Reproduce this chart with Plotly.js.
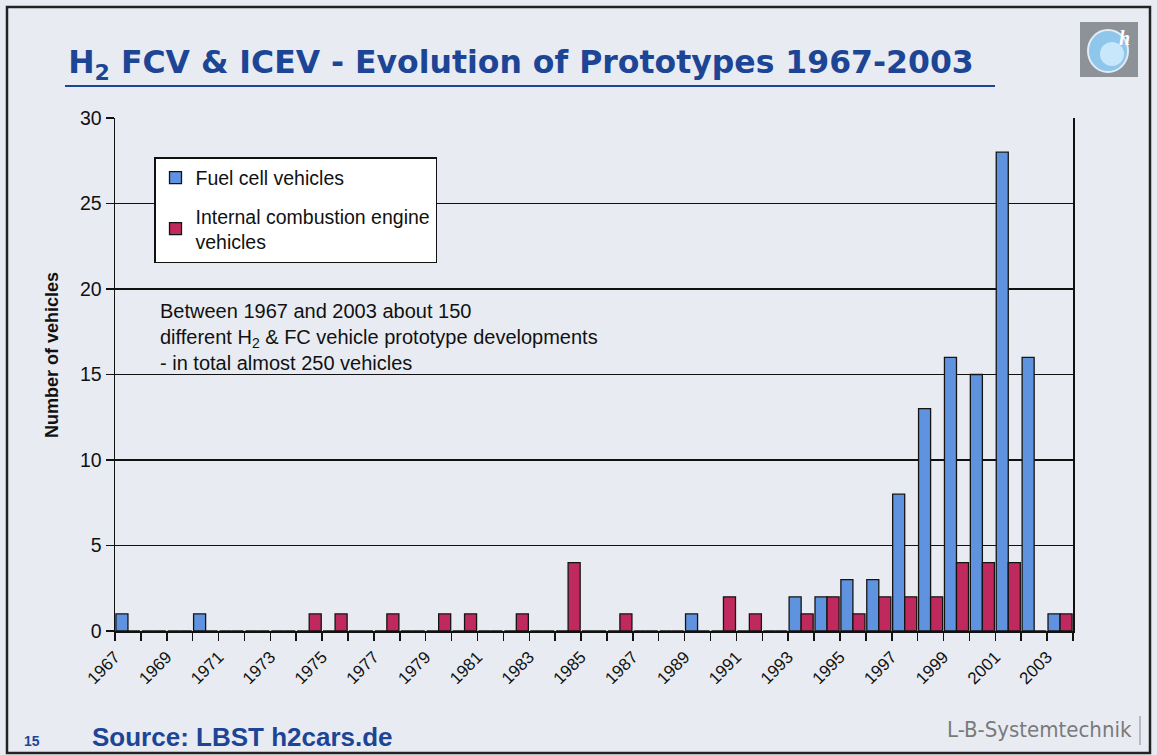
<!DOCTYPE html>
<html>
<head>
<meta charset="utf-8">
<script src="https://cdn.plot.ly/plotly-3.0.1.min.js"></script>
<style>
  html, body { margin: 0; padding: 0; background: #e7ebf1; }
  #chart { width: 1157px; height: 755px; }
</style>
</head>
<body>
<div id="chart"></div>
<script>
// ---- Data ----
const years = [1967, 1968, 1969, 1970, 1971, 1972, 1973, 1974, 1975, 1976,
               1977, 1978, 1979, 1980, 1981, 1982, 1983, 1984, 1985, 1986,
               1987, 1988, 1989, 1990, 1991, 1992, 1993, 1994, 1995, 1996,
               1997, 1998, 1999, 2000, 2001, 2002, 2003];
const fuelCellVehicles = [1, 0, 0, 1, 0, 0, 0, 0, 0, 0,
                          0, 0, 0, 0, 0, 0, 0, 0, 0, 0,
                          0, 0, 1, 0, 0, 0, 2, 2, 3, 3,
                          8, 13, 16, 15, 28, 16, 1];
const iceVehicles = [0, 0, 0, 0, 0, 0, 0, 1, 1, 0,
                     1, 0, 1, 1, 0, 1, 0, 4, 0, 1,
                     0, 0, 0, 2, 1, 0, 1, 2, 1, 2,
                     2, 2, 4, 4, 4, 0, 1];
const tickLabelYears = [1967, 1969, 1971, 1973, 1975, 1977, 1979, 1981, 1983, 1985,
                        1987, 1989, 1991, 1993, 1995, 1997, 1999, 2001, 2003];
const yTicks = [0, 5, 10, 15, 20, 25, 30];
const seriesNames = ['Fuel cell vehicles', 'Internal combustion engine<br>vehicles'];
const titleText = 'H<sub>2</sub> FCV & ICEV - Evolution of Prototypes 1967-2003';
const yTitleText = 'Number of vehicles';
const noteText = 'Between 1967 and 2003 about 150<br>different H<sub>2</sub> & FC vehicle prototype developments<br>- in total almost 250 vehicles';

// ---- Layout geometry ----
const W = 1157, H = 755;
const M = { l: 115, r: 84, t: 118, b: 124 };
const PW = W - M.l - M.r, PH = H - M.t - M.b;
const px = x => (x - M.l) / PW;
const py = y => (H - M.b - y) / PH;

const FONT = 'Liberation Sans, Arial, sans-serif';
const BLUE = '#5f93df';
const RED = '#c0295d';
const DARKBLUE = '#1d4596';

const traces = [
  {
    type: 'bar', x: years, y: fuelCellVehicles, name: seriesNames[0],
    legendgroup: 'fcv',
    marker: { color: BLUE, line: { color: '#141414', width: 1.3 } }
  },
  {
    type: 'bar', x: years, y: iceVehicles, name: seriesNames[1],
    legendgroup: 'ice',
    marker: { color: RED, line: { color: '#141414', width: 1.3 } }
  }
];

const layout = {
  width: W, height: H,
  margin: M,
  paper_bgcolor: '#e8ecf2',
  plot_bgcolor: 'rgba(0,0,0,0)',
  font: { family: FONT, color: '#111' },
  barmode: 'group',
  bargap: 0.07,
  bargroupgap: 0,
  showlegend: true,
  title: {
    text: titleText,
    font: { family: 'DejaVu Sans, Liberation Sans, sans-serif', size: 31.5, weight: 'bold', color: DARKBLUE },
    xref: 'container', yref: 'container',
    x: 521 / W, xanchor: 'center',
    y: 1 - 62 / H, yanchor: 'middle'
  },
  xaxis: {
    type: 'linear',
    range: [years[0] - 0.5, years[years.length - 1] + 0.5],
    tickmode: 'array',
    tickvals: tickLabelYears.map(v => v - 0.5),
    ticktext: tickLabelYears.map(String),
    tickangle: -45,
    ticks: 'outside', ticklen: 8, tickwidth: 1.5, tickcolor: '#111',
    minor: { tickmode: 'linear', tick0: years[0] - 0.5, dtick: 1, ticks: 'outside', ticklen: 8, tickwidth: 1.5, tickcolor: '#111', showgrid: false },
    showgrid: false, zeroline: false,
    showline: true, linecolor: '#111', linewidth: 1.5,
    tickfont: { family: FONT, size: 17, color: '#111' },
    fixedrange: true
  },
  yaxis: {
    range: [0, 30],
    tickmode: 'array', tickvals: yTicks,
    ticks: 'outside', ticklen: 8, tickwidth: 1.5, tickcolor: '#111',
    showgrid: true, gridcolor: '#111', gridwidth: 1.2,
    zeroline: false,
    showline: true, linecolor: '#111', linewidth: 1.5, mirror: true,
    tickfont: { family: FONT, size: 19.5, color: '#111' },
    fixedrange: true
  },
  legend: {
    x: px(154), y: py(157), xanchor: 'left', yanchor: 'top',
    bgcolor: '#ffffff', bordercolor: '#111', borderwidth: 1.5,
    font: { family: FONT, size: 19.5, color: '#111' },
    traceorder: 'grouped', tracegroupgap: 10,
    itemwidth: 30
  },
  annotations: [
    {
      xref: 'paper', yref: 'paper', x: px(52), y: py(355),
      xanchor: 'center', yanchor: 'middle', showarrow: false, textangle: -90,
      text: yTitleText,
      font: { family: FONT, size: 18, weight: 'bold', color: '#111' }
    },
    {
      xref: 'paper', yref: 'paper', x: px(158), y: py(298),
      xanchor: 'left', yanchor: 'top', align: 'left', showarrow: false,
      text: noteText,
      font: { family: FONT, size: 20, color: '#111' }
    },
    {
      xref: 'paper', yref: 'paper', x: px(90), y: py(737),
      xanchor: 'left', yanchor: 'middle', showarrow: false,
      text: 'Source: LBST h2cars.de',
      font: { family: FONT, size: 26, weight: 'bold', color: DARKBLUE }
    },
    {
      xref: 'paper', yref: 'paper', x: px(22), y: py(741),
      xanchor: 'left', yanchor: 'middle', showarrow: false,
      text: '15',
      font: { family: FONT, size: 14, weight: 'bold', color: DARKBLUE }
    },
    {
      xref: 'paper', yref: 'paper', x: px(1134), y: py(729),
      xanchor: 'right', yanchor: 'middle', showarrow: false,
      text: 'L-B-Systemtechnik',
      font: { family: 'Liberation Sans Narrow, DejaVu Sans Condensed, Liberation Sans, sans-serif', size: 22, color: '#7a7a7a' }
    },
    {
      xref: 'paper', yref: 'paper', x: px(1124), y: py(38),
      xanchor: 'center', yanchor: 'middle', showarrow: false,
      text: '<i>h</i>',
      font: { family: 'Liberation Serif, serif', size: 20, weight: 'bold', color: '#ffffff' }
    }
  ],
  shapes: [
    // slide frame
    { type: 'rect', xref: 'paper', yref: 'paper', x0: px(7), x1: px(1150), y0: py(7), y1: py(753),
      line: { color: '#222', width: 2.5 }, fillcolor: 'rgba(0,0,0,0)', layer: 'below' },
    // title underline
    { type: 'line', xref: 'paper', yref: 'paper', x0: px(65), x1: px(995), y0: py(86), y1: py(86),
      line: { color: DARKBLUE, width: 2 } },
    // logo
    { type: 'rect', xref: 'paper', yref: 'paper', x0: px(1080), x1: px(1138), y0: py(22), y1: py(77),
      line: { width: 0 }, fillcolor: '#8d9299' },
    { type: 'circle', xref: 'paper', yref: 'paper', x0: px(1088), x1: px(1128), y0: py(30), y1: py(72),
      line: { color: '#e3ecf4', width: 2 }, fillcolor: '#8fc6ec' },
    { type: 'circle', xref: 'paper', yref: 'paper', x0: px(1100), x1: px(1124), y0: py(42), y1: py(66),
      line: { width: 0 }, fillcolor: '#c9e7fa' },
    // L-B-Systemtechnik bracket
    { type: 'line', xref: 'paper', yref: 'paper', x0: px(1140), x1: px(1140), y0: py(716), y1: py(745),
      line: { color: '#9a9a9a', width: 1.2 } }
  ]
};

Plotly.newPlot('chart', traces, layout, { displayModeBar: false, staticPlot: true });
</script>
</body>
</html>
